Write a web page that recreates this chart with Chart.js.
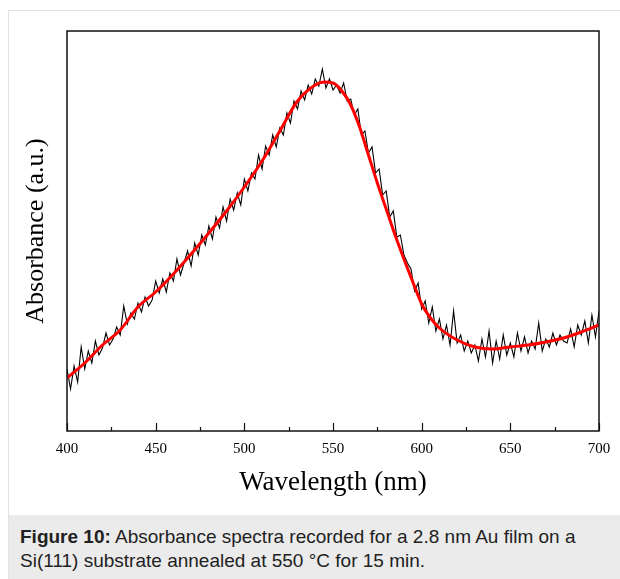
<!DOCTYPE html>
<html>
<head>
<meta charset="utf-8">
<script src="https://cdn.jsdelivr.net/npm/chart.js@4/dist/chart.umd.min.js"></script>
<style>
  body { margin: 0; background: #fff; width: 620px; height: 579px; overflow: hidden; position: relative; font-family: 'Liberation Sans', Arial, sans-serif; }
  #box { position: absolute; left: 8px; top: 10px; width: 630px; height: 600px; border: 1px solid #e2e2e2; box-sizing: border-box; }
  #wrap { position: absolute; left: 0; top: 0; width: 620px; height: 515px; }
  #cap { position: absolute; left: 9px; top: 515px; width: 620px; height: 70px; background: #ebebeb; padding: 10px 0 0 11px; box-sizing: border-box; font-size: 19px; line-height: 24px; color: #222; }
</style>
</head>
<body>
<div id="box"></div>
<div id="wrap"><canvas id="chart"></canvas></div>
<div id="cap"><b>Figure 10:</b> Absorbance spectra recorded for a 2.8 nm Au film on a<br>Si(111) substrate annealed at 550 °C for 15 min.</div>
<script>
// measured spectrum (a.u.), every 2 nm
const wavelength = [
  400,402,404,406,408,410,412,414,416,418,420,422,424,426,428,430,432,434,436,438,
  440,442,444,446,448,450,452,454,456,458,460,462,464,466,468,470,472,474,476,478,
  480,482,484,486,488,490,492,494,496,498,500,502,504,506,508,510,512,514,516,518,
  520,522,524,526,528,530,532,534,536,538,540,542,544,546,548,550,552,554,556,558,
  560,562,564,566,568,570,572,574,576,578,580,582,584,586,588,590,592,594,596,598,
  600,602,604,606,608,610,612,614,616,618,620,622,624,626,628,630,632,634,636,638,
  640,642,644,646,648,650,652,654,656,658,660,662,664,666,668,670,672,674,676,678,
  680,682,684,686,688,690,692,694,696,698,700
];
const absorbance = [
  62,42,65,49,84,62,80,68,90,76,83,98,86,92,104,96,125,107,118,112,
  128,119,134,125,131,150,138,152,139,158,150,172,156,168,180,165,188,176,196,186,
  205,192,214,203,224,210,232,221,238,226,252,240,258,252,276,262,285,276,296,284,
  303,296,318,308,330,322,340,331,346,337,352,345,362,343,352,341,346,338,348,330,
  332,316,322,296,300,278,284,258,262,236,240,214,220,194,196,176,168,162,140,148,
  122,130,108,124,100,112,92,106,86,120,88,96,80,90,78,86,70,92,74,100,
  68,90,72,96,76,88,74,98,80,94,78,90,82,108,80,92,84,98,86,96,
  90,88,102,84,106,96,110,88,116,94,120
];

// fitted curve (red)
const fitWavelength = [400,410,420,430,440,450,460,470,480,490,500,510,520,530,540,545,550,555,560,565,570,575,580,585,590,595,600,605,610,620,630,640,650,660,670,680,690,700];
const fitAbsorbance = [53,68,86,101,124,139,157,177,198,220,244,270,300,330,346,349,348,340,326,304,276,248,222,196,172,149,127,113,103,91,84,82,84,86,89,93,99,106];

const xTicks = [400,425,450,475,500,525,550,575,600,625,650,675,700];

const serif = "'Liberation Serif', 'Times New Roman', serif";

// box around plot + inward ticks
const framePlugin = {
  id: 'frame',
  afterDatasetsDraw(chart) {
    const { ctx, chartArea: a, scales } = chart;
    ctx.save();
    ctx.strokeStyle = '#111';
    ctx.lineWidth = 1.5;
    ctx.strokeRect(a.left, a.top, a.right - a.left, a.bottom - a.top);
    ctx.lineWidth = 1.2;
    xTicks.forEach(v => {
      const px = Math.round(scales.x.getPixelForValue(v)) + 0.5;
      const len = v % 50 === 0 ? 8 : 4;
      ctx.beginPath();
      ctx.moveTo(px, a.bottom);
      ctx.lineTo(px, a.bottom - len);
      ctx.stroke();
    });
    ctx.restore();
  }
};

new Chart(document.getElementById('chart'), {
  type: 'line',
  data: {
    datasets: [
      {
        label: 'Measured',
        data: wavelength.map((w, i) => ({ x: w, y: absorbance[i] })),
        borderColor: '#000',
        borderWidth: 1.1,
        pointRadius: 0,
        tension: 0,
        order: 2
      },
      {
        label: 'Fit',
        data: fitWavelength.map((w, i) => ({ x: w, y: fitAbsorbance[i] })),
        borderColor: '#ff0000',
        borderWidth: 3,
        pointRadius: 0,
        cubicInterpolationMode: 'monotone',
        order: 1
      }
    ]
  },
  options: {
    responsive: true,
    maintainAspectRatio: false,
    animation: false,
    layout: { padding: { left: 0, right: 21, top: 31, bottom: 0 } },
    plugins: { legend: { display: false }, tooltip: { enabled: false } },
    scales: {
      x: {
        type: 'linear',
        min: 400,
        max: 700,
        afterFit: s => { s.height = 84; },
        afterBuildTicks: s => { s.ticks = xTicks.map(v => ({ value: v })); },
        grid: { display: false, drawTicks: false },
        border: { display: false },
        ticks: {
          padding: 9,
          maxRotation: 0,
          autoSkip: false,
          color: '#000',
          font: { family: serif, size: 15 },
          callback: v => (v % 50 === 0 ? v : '')
        },
        title: {
          display: true,
          text: 'Wavelength (nm)',
          color: '#000',
          font: { family: serif, size: 27 },
          padding: { top: 0, bottom: 16 }
        }
      },
      y: {
        min: 0,
        max: 400,
        afterFit: s => { s.width = 67; },
        grid: { display: false },
        border: { display: false },
        ticks: { display: false },
        title: {
          display: true,
          text: 'Absorbance (a.u.)',
          color: '#000',
          font: { family: serif, size: 26 },
          padding: { top: 21, bottom: 0 }
        }
      }
    }
  },
  plugins: [framePlugin]
});
</script>
</body>
</html>
